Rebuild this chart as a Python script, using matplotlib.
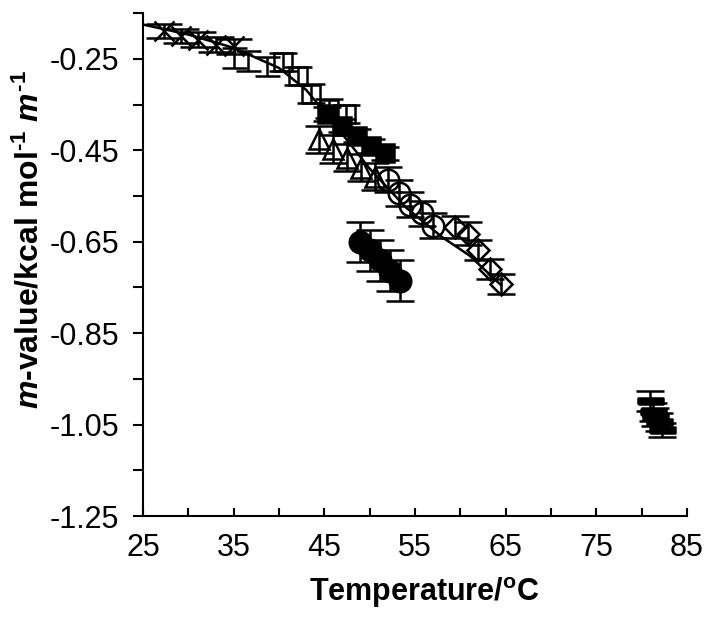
import numpy as np
import matplotlib
matplotlib.use("Agg")
import matplotlib.pyplot as plt

plt.rcParams['font.family'] = ['Liberation Sans', 'DejaVu Sans']
plt.rcParams['mathtext.fontset'] = 'custom'
plt.rcParams['mathtext.rm'] = 'Liberation Sans:bold'
plt.rcParams['mathtext.it'] = 'Liberation Sans:italic:bold'

# values (temperature in C, m-value in kcal/mol/m)
t_cross = [27.3, 29.2, 31.1, 33.0, 35.0]
m_cross = [-0.189, -0.200, -0.208, -0.219, -0.223]
e_cross = [0.016, 0.016, 0.016, 0.016, 0.016]

t_bars = [35.0, 36.6, 38.7]
m_bars = [-0.248, -0.254, -0.267]
e_bars = [0.022, 0.022, 0.020]

t_osq = [40.4, 42.1, 43.5, 45.5, 47.4]
m_osq = [-0.257, -0.287, -0.326, -0.359, -0.370]
e_osq = [0.02, 0.02, 0.02, 0.02, 0.02]

t_tri = [44.4, 46.0, 47.5, 49.1, 50.6]
m_tri = [-0.426, -0.447, -0.466, -0.488, -0.508]
e_tri = [0.03, 0.03, 0.03, 0.03, 0.03]

t_fsq = [45.3, 46.9, 48.6, 50.2, 51.7]
m_fsq = [-0.370, -0.396, -0.418, -0.440, -0.457]
e_fsq = [0.015, 0.015, 0.015, 0.015, 0.015]

t_ocir = [52.0, 53.2, 54.4, 55.8, 57.0]
m_ocir = [-0.514, -0.543, -0.569, -0.588, -0.615]
e_ocir = [0.028, 0.028, 0.028, 0.028, 0.028]

t_dia = [59.4, 60.9, 62.0, 63.3, 64.5]
m_dia = [-0.618, -0.633, -0.669, -0.709, -0.742]
e_dia = [0.025, 0.025, 0.022, 0.022, 0.022]

t_fcir = [48.9, 50.0, 51.1, 52.2, 53.3]
m_fcir = [-0.651, -0.669, -0.691, -0.713, -0.735]
e_fcir = [0.044, 0.044, 0.044, 0.044, 0.044]

t_dash = [80.9, 81.3, 81.5, 81.9, 82.3]
m_dash = [-0.999, -1.023, -1.034, -1.045, -1.062]
e_dash = [0.022, 0.02, 0.02, 0.02, 0.016]

# fitted curve, traced point by point
t_fit = [25, 30, 35, 40, 43, 46, 50, 54, 58, 61, 64.5]
m_fit = [-0.175, -0.197, -0.226, -0.27, -0.318, -0.39, -0.49, -0.575, -0.64, -0.68, -0.745]

fig = plt.figure(figsize=(7.14, 6.23), dpi=100)
ax = fig.add_axes([0.2003, 0.1717, 0.7617, 0.8073])

ax.plot(t_fit, m_fit, color='black', lw=1.8, zorder=2)

eb = dict(color='black', ecolor='black', elinewidth=1.8, capthick=1.8,
          linestyle='none', mew=1.8, zorder=3)

ax.errorbar(t_cross, m_cross, yerr=e_cross, marker='x', ms=14, capsize=13, **eb)
ax.errorbar(t_bars, m_bars, yerr=e_bars, marker='none', capsize=9, **eb)
ax.errorbar(t_osq, m_osq, yerr=e_osq, marker='s', ms=13.5, mfc='none', capsize=10, **eb)
ax.errorbar(t_tri, m_tri, yerr=e_tri, marker='^', ms=15, mfc='none', capsize=10, **eb)
ax.errorbar(t_fsq, m_fsq, yerr=e_fsq, marker='s', ms=13, mfc='black', capsize=10, **eb)
ax.errorbar(t_ocir, m_ocir, yerr=e_ocir, marker='o', ms=15.5, mfc='none', capsize=10, **eb)
ax.errorbar(t_dia, m_dia, yerr=e_dia, marker='D', ms=11, mfc='none', capsize=10, **eb)
ax.errorbar(t_fcir, m_fcir, yerr=e_fcir, marker='o', ms=15.5, mfc='black', capsize=10, **eb)

dash = [(-2, -0.5), (2, -0.5), (2, 0.5), (-2, 0.5), (-2, -0.5)]
ax.errorbar(t_dash, m_dash, yerr=e_dash, marker=dash, ms=18, mfc='black', capsize=10, **eb)

ax.set_xlim(25, 85)
ax.set_ylim(-1.25, -0.15)

xt = np.arange(25, 86, 5)
ax.set_xticks(xt)
ax.set_xticklabels([str(v) if (v - 25) % 10 == 0 else '' for v in xt])
yt = np.round(np.arange(-1.25, -0.149, 0.1), 2)
ax.set_yticks(yt)
ax.set_yticklabels(['%.2f' % v if round((v + 1.25) * 10) % 2 == 0 else '' for v in yt])

ax.tick_params(axis='x', direction='in', length=6, width=1.5, pad=12, labelsize=22)
ax.tick_params(axis='y', direction='out', length=7, width=1.5, pad=10, labelsize=22)

for side in ['top', 'right']:
    ax.spines[side].set_visible(False)
for side in ['left', 'bottom']:
    ax.spines[side].set_linewidth(1.5)

ax.set_xlabel('Temperature/$^{\\mathrm{o}}$C', fontsize=22, fontweight='bold')
ax.set_ylabel('$\\mathit{m}$-value/kcal mol$^{\\text{-1}}$ $\\mathit{m}^{\\text{-1}}$',
              fontsize=23, fontweight='bold')
ax.xaxis.set_label_coords(0.518, -0.117)
ax.yaxis.set_label_coords(-0.18, 0.549)

fig.savefig('out.png', dpi=100)
